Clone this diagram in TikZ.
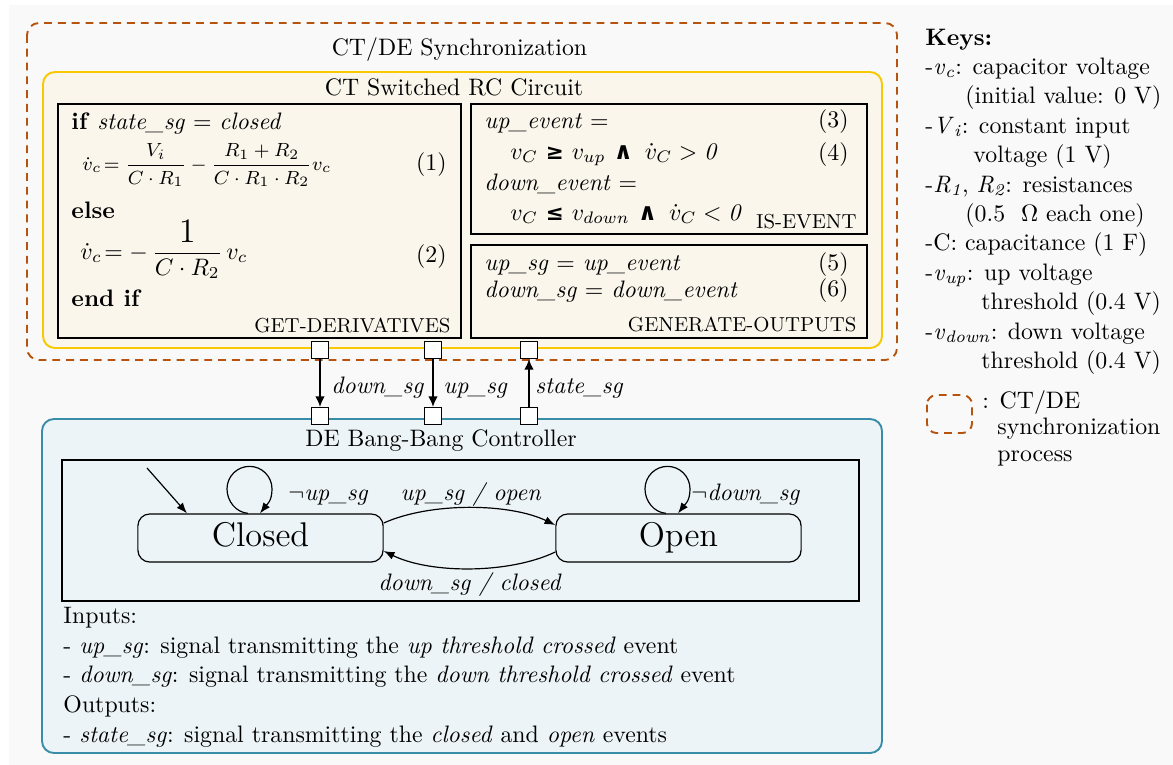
\documentclass[tikz,border=0pt]{standalone}
\usepackage{fontspec}
\newfontfamily\dvs{DejaVu Sans}
\usetikzlibrary{arrows.meta,calc}
\definecolor{bggrey}{HTML}{F9F9F9}
\definecolor{syncor}{HTML}{B5530F}
\definecolor{ctyel}{HTML}{F8C800}
\definecolor{ctfill}{HTML}{FAF6EC}
\definecolor{deblue}{HTML}{3A8DA8}
\definecolor{defill}{HTML}{EDF4F7}
\newcommand{\symb}[1]{{\dvs\bfseries\small #1}}
\newcommand{\symbig}[1]{{\dvs\bfseries #1}}
\newcommand{\selfloop}[1]{%
  \draw[tr] ($(#1.north)+(-12.5,0)$) .. controls +(-12,-1) and +(0,12.4) ..
    ($(#1.north)+(-33.5,-24.5)$) .. controls +(0,-12.4) and +(-12.4,0) ..
    ($(#1.north)+(-11,-47)$) .. controls +(12.4,0) and +(0,-12.4) ..
    ($(#1.north)+(11.5,-24.5)$) .. controls +(0,12.4) and +(7,-9) ..
    ($(#1.north)+(-0.5,0)$);}
\begin{document}
\begin{tikzpicture}[x=0.42pt,y=-0.42pt,
  txt/.style={inner sep=0pt, anchor=base west},
  txtr/.style={inner sep=0pt, anchor=base east},
  txtc/.style={inner sep=0pt, anchor=base},
  boxlabel/.style={inner sep=0pt, anchor=base east, font=\fontsize{8.5}{10}\selectfont},
  port/.style={draw, fill=white, minimum size=7pt, inner sep=0pt, line width=0.5pt},
  sig/.style={line width=0.8pt, -{Latex[length=4.5pt,width=4pt]}},
  stnode/.style={draw, rounded corners=5pt, minimum width=103pt, minimum height=20.2pt, line width=0.5pt, font=\Large, text height=10pt, text depth=3pt, inner sep=0pt},
  tr/.style={line width=0.5pt, -{Latex[length=4.5pt,width=3.4pt]}},
  ibox/.style={draw=black, line width=0.6pt},
  syncline/.style={draw=syncor, line width=0.8pt, dash pattern=on 3.3pt off 2.5pt},
]
\useasboundingbox (0,0) rectangle (1173,765);
\fill[white] (0,0) rectangle (1173,765);
\fill[bggrey] (9,5) rectangle (1173,765);

% containers
\draw[syncline, rounded corners=5pt] (27,23) rectangle (897,360);
\draw[ctyel, fill=ctfill, line width=0.8pt, rounded corners=5pt] (43,72) rectangle (882,348);
\draw[ibox, fill=ctfill] (58,104) rectangle (461,338);
\draw[ibox, fill=ctfill] (471,104) rectangle (867,234);
\draw[ibox, fill=ctfill] (471,245) rectangle (867,338);
\draw[deblue, fill=defill, line width=0.8pt, rounded corners=5pt] (42,419) rectangle (882,753);
\draw[ibox, fill=defill] (62,460) rectangle (859,601);

% titles
\node[txtc] (tsync) at (459.5,55) {CT/DE Synchronization};
\node[txtc] (tct) at (454,95) {CT Switched RC Circuit};
\node[txtc] (tde) at (441,446) {DE Bang-Bang Controller};

% GET-DERIVATIVES
\node[txt] (if1) at (71,129) {\textbf{if} \textit{state\_sg} $=$ \textit{closed}};
\node[txt, font=\fontsize{8}{10}\selectfont] (eq1) at (82,170) {$\displaystyle \dot{v}_c\!= \frac{V_i}{C\cdot R_1} - \frac{R_1+R_2}{C\cdot R_1\cdot R_2}v_c$};
\node[txtr] (n1) at (447,170) {(1)};
\node[txt] (else) at (71,218) {\textbf{else}};
\node[txt] (eq2) at (80,259) {$\displaystyle \dot{v}_c\!= -\,\frac{\mbox{\Large 1}}{C\cdot R_2}\,v_c$};
\node[txtr] (n2) at (447,262) {(2)};
\node[txt] (endif) at (71,306) {\textbf{end if}};
\node[boxlabel] (lgd) at (451,332) {GET-DERIVATIVES};

% IS-EVENT
\node[txt] (ue) at (484,128) {\textit{up\_event} $=$};
\node[txtr] (n3) at (849,127) {(3)};
\node[txt] (uec) at (510,159) {$v_C$ \symb{≥} $v_{up}$ \symbig{∧}\, $\dot{v}_C > \mathit{0}$};
\node[txtr] (n4) at (849,160) {(4)};
\node[txt] (dev) at (484,190) {\textit{down\_event} $=$};
\node[txt] (dec) at (510,220) {$v_C$ \symb{≤} $v_{down}$ \symbig{∧}\, $\dot{v}_C < \mathit{0}$};
\node[boxlabel] (lie) at (857,228) {IS-EVENT};

% GENERATE-OUTPUTS
\node[txt] (us) at (484,270) {\textit{up\_sg} $=$ \textit{up\_event}};
\node[txtr] (n5) at (849,270) {(5)};
\node[txt] (ds) at (484,297) {\textit{down\_sg} $=$ \textit{down\_event}};
\node[txtr] (n6) at (849,296) {(6)};
\node[boxlabel] (lgo) at (857,331) {GENERATE-OUTPUTS};

% ports and signals
\node[port] (p1t) at (320,350) {};
\node[port] (p2t) at (433,350) {};
\node[port] (p3t) at (529,350) {};
\node[port] (p1b) at (320,416) {};
\node[port] (p2b) at (433,416) {};
\node[port] (p3b) at (529,416) {};
\draw[sig] (p1t) -- (p1b);
\draw[sig] (p2t) -- (p2b);
\draw[sig] (p3b) -- (p3t);
\node[txt] (l1) at (331,393) {\textit{down\_sg}};
\node[txt] (l2) at (443,393) {\textit{up\_sg}};
\node[txt] (l3) at (535,393) {\textit{state\_sg}};

% state machine
\node[stnode] (closed) at (260.5,538) {Closed};
\node[stnode] (open) at (678.5,538) {Open};
\coordinate (init) at (147,468);
\draw[tr] (init) -- ($(closed.north)+(-73.5,0)$);
\selfloop{closed}
\selfloop{open}
\draw[tr] ($(closed.east)+(0,-15)$) .. controls +(47,-21) and +(-46,-22) .. ($(open.west)+(0,-13)$);
\draw[tr] ($(open.west)+(0,14)$) .. controls +(-46,22) and +(47,23) .. ($(closed.east)+(0,13)$);
\node[txt] (lnu) at (288,500) {$\neg$\textit{up\_sg}};
\node[txtc] (luo) at (471,500) {\textit{up\_sg / open}};
\node[txt] (lnd) at (691,500) {$\neg$\textit{down\_sg}};
\node[txtc] (ldc) at (470,590) {\textit{down\_sg / closed}};

% inputs / outputs
\node[txt] (in0) at (63,623) {Inputs:};
\node[txt] (in1) at (63,653) {- \textit{up\_sg}: signal transmitting the \textit{up threshold crossed} event};
\node[txt] (in2) at (63,682) {- \textit{down\_sg}: signal transmitting the \textit{down threshold crossed} event};
\node[txt] (out0) at (63,712) {Outputs:};
\node[txt] (out1) at (63,742) {- \textit{state\_sg}: signal transmitting the \textit{closed} and \textit{open} events};

% keys
\node[txt] (k0) at (925,45) {\textbf{Keys:}};
\node[txt] (k1) at (925,74.4) {-\textit{v}\textsubscript{\textit{c}}: capacitor voltage};
\node[txt] (k1b) at (965,103.8) {(initial value: 0 V)};
\node[txt] (k2) at (925,133.2) {-\textit{V}\textsubscript{\textit{i}}: constant input};
\node[txt] (k2b) at (973,162.6) {voltage (1 V)};
\node[txt] (k3) at (925,192) {-\textit{R}\textsubscript{\textit{1}}, \textit{R}\textsubscript{\textit{2}}: resistances};
\node[txt] (k3b) at (965,221.4) {(0.5\ \ $\Omega$ each one)};
\node[txt] (k4) at (925,250.8) {-C: capacitance (1 F)};
\node[txt] (k5) at (925,280.2) {-\textit{v}\textsubscript{\textit{up}}: up voltage};
\node[txt] (k5b) at (981,309.6) {threshold (0.4 V)};
\node[txt] (k6) at (925,339) {-\textit{v}\textsubscript{\textit{down}}: down voltage};
\node[txt] (k6b) at (981,368.4) {threshold (0.4 V)};
\draw[syncline, rounded corners=4pt] (927,395) rectangle (972,433);
\node[txt] (k7) at (982,408) {: CT/DE};
\node[txt] (k7b) at (997,434.5) {synchronization};
\node[txt] (k7c) at (997,461) {process};
\end{tikzpicture}
\end{document}
